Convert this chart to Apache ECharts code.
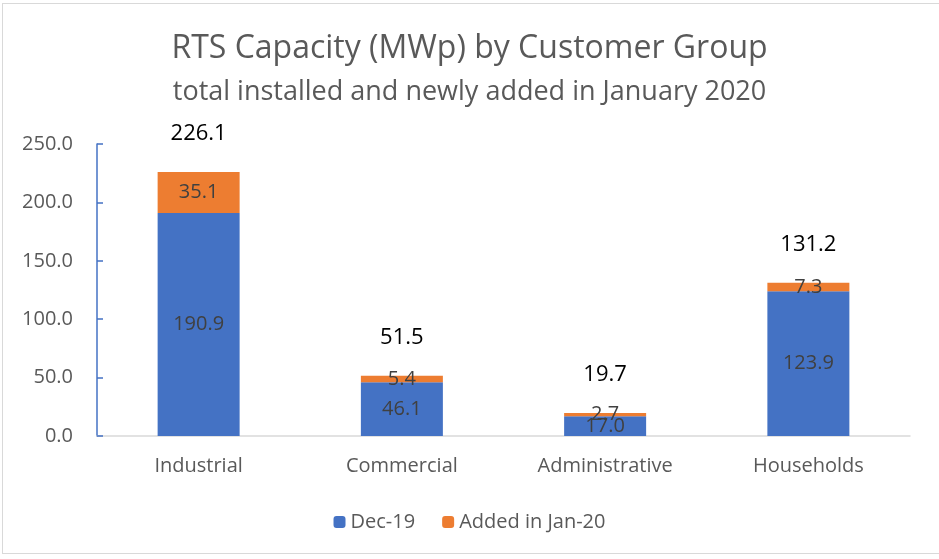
<!DOCTYPE html>
<html><head><meta charset="utf-8">
<script src="https://cdn.jsdelivr.net/npm/echarts@6/dist/echarts.min.js"></script>
<style>
html,body{margin:0;padding:0;background:#fff;}
#frame{position:absolute;left:2px;top:3px;width:945px;height:551px;border:1px solid #d9d9d9;box-sizing:border-box;}
#c{position:absolute;left:0;top:0;width:939px;height:559px;}
</style></head>
<body><div id="frame"></div><div id="c"></div>
<script>
const categories = ['Industrial', 'Commercial', 'Administrative', 'Households'];
const dec19 = [190.9, 46.1, 17.0, 123.9];
const addedJan20 = [35.1, 5.4, 2.7, 7.3];
const totals = [226.1, 51.5, 19.7, 131.2];
const yTicks = [0, 50, 100, 150, 200, 250];

const FONT = 'Open Sans';
const chart = echarts.init(document.getElementById('c'), null, {renderer: 'canvas'});
chart.setOption({
  animation: false,
  textStyle: {fontFamily: FONT},
  title: [
    {text: 'RTS Capacity (MWp) by Customer Group', left: 'center', top: 28,
     textStyle: {fontFamily: FONT, fontSize: 32, fontWeight: 'normal', color: '#595959'}},
    {text: 'total installed and newly added in January 2020', left: 'center', top: 74,
     textStyle: {fontFamily: FONT, fontSize: 27, fontWeight: 'normal', color: '#595959'}}
  ],
  legend: {
    bottom: 22, left: 'center', itemWidth: 12, itemHeight: 12, itemGap: 27,
    textStyle: {fontFamily: FONT, fontSize: 20, color: '#595959'},
    data: ['Dec-19', 'Added in Jan-20']
  },
  grid: {left: 97, right: 29, top: 144, bottom: 123},
  xAxis: {
    type: 'category', data: categories,
    axisLine: {lineStyle: {color: '#d9d9d9', width: 1.5}},
    axisTick: {show: false},
    axisLabel: {fontFamily: FONT, fontSize: 20, color: '#595959', margin: 20}
  },
  yAxis: {
    type: 'value', min: yTicks[0], max: yTicks[yTicks.length - 1], interval: 50,
    axisLine: {show: true, lineStyle: {color: '#4472C4', width: 1.5}},
    axisTick: {show: true, inside: true, length: 6, lineStyle: {color: '#4472C4', width: 1.5}},
    splitLine: {show: false},
    axisLabel: {fontFamily: FONT, fontSize: 20, color: '#595959', margin: 24,
                formatter: v => v.toFixed(1)}
  },
  series: [
    {name: 'Dec-19', type: 'bar', stack: 'cap', data: dec19, barWidth: 82,
     itemStyle: {color: '#4472C4'},
     label: {show: true, position: 'inside', fontFamily: FONT, fontSize: 20, color: '#404040',
             formatter: p => p.value.toFixed(1)}},
    {name: 'Added in Jan-20', type: 'bar', stack: 'cap', data: addedJan20, barWidth: 82,
     itemStyle: {color: '#ED7D31'},
     label: {show: true, position: 'inside', fontFamily: FONT, fontSize: 20, color: '#404040',
             formatter: p => p.value.toFixed(1)}},
    {name: 'Total', type: 'line', data: totals, symbol: 'circle', symbolSize: 1,
     itemStyle: {color: 'rgba(0,0,0,0)'}, lineStyle: {width: 0, color: 'rgba(0,0,0,0)'}, silent: true,
     label: {show: true, position: 'top', distance: 27, fontFamily: FONT, fontSize: 22, color: '#000',
             formatter: p => p.value.toFixed(1)}}
  ]
});
</script></body></html>
